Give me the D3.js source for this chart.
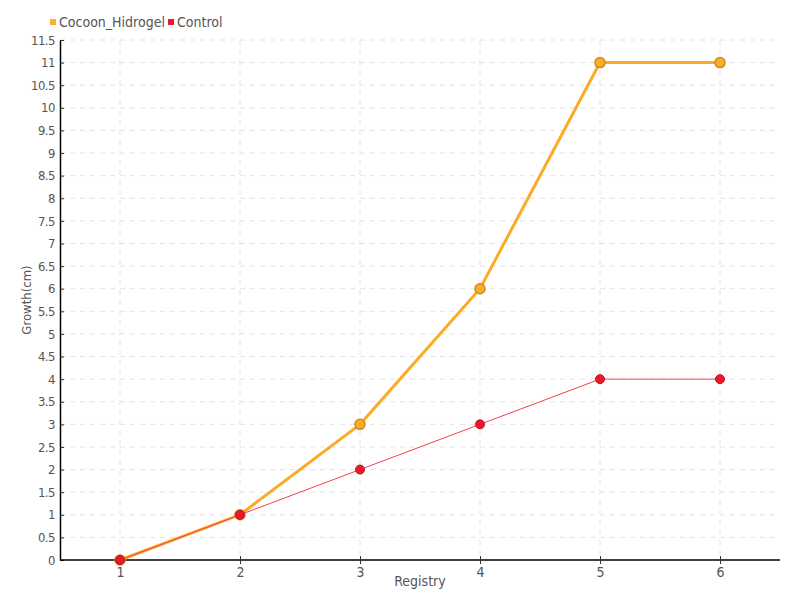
<!DOCTYPE html>
<html><head><meta charset="utf-8">
<script src="https://cdn.jsdelivr.net/npm/d3@7"></script>
<style>
body{margin:0;background:#fff;}
text{font-family:"DejaVu Sans Condensed","DejaVu Sans",sans-serif;fill:#555;}
</style></head>
<body><svg id="c" width="800" height="600"></svg>
<script>
const categories = ["1","2","3","4","5","6"];
const cocoonHidrogel = [0,1,3,6,11,11];
const control = [0,1,2,3,4,4];
const yTicks = [0,0.5,1,1.5,2,2.5,3,3.5,4,4.5,5,5.5,6,6.5,7,7.5,8,8.5,9,9.5,10,10.5,11,11.5];
const seriesNames = ["Cocoon_Hidrogel","Control"];

const svg = d3.select("#c");
const m = {l:60, r:20, t:40, b:40};
const W = 800, H = 600;
const x = d3.scalePoint().domain(categories).range([m.l, W-m.r]).padding(0.5);
const y = d3.scaleLinear().domain([0,11.5]).range([H-m.b, m.t]);

// grid
const g = svg.append("g");
g.selectAll(".hg").data(yTicks.slice(1)).join("line")
  .attr("x1",m.l).attr("x2",W-m.r).attr("y1",d=>y(d)).attr("y2",d=>y(d))
  .attr("stroke","#e3e3e3").attr("stroke-dasharray","5,5");
g.selectAll(".vg").data(categories).join("line")
  .attr("x1",d=>x(d)).attr("x2",d=>x(d)).attr("y1",m.t).attr("y2",H-m.b)
  .attr("stroke","#e3e3e3").attr("stroke-dasharray","5,5");

// axes
const ya = svg.append("g").attr("transform",`translate(${m.l},0)`)
  .call(d3.axisLeft(y).tickValues(yTicks).tickFormat(d=>String(d)).tickSizeInner(-4).tickSizeOuter(0).tickPadding(5));
ya.select(".domain").attr("stroke","#000").attr("stroke-width",1.5);
ya.selectAll(".tick line").attr("stroke","#333");
ya.selectAll("text").style("font-size","13px").attr("fill","#555").attr("letter-spacing","-0.5");

const xa = svg.append("g").attr("transform",`translate(0,${H-m.b})`)
  .call(d3.axisBottom(x).tickSizeInner(4).tickSizeOuter(0).tickPadding(3));
xa.select(".domain").attr("stroke","#000").attr("stroke-width",1.5).attr("d",`M${m.l},0H${W-m.r}`);
xa.selectAll(".tick line").attr("stroke","#333").attr("y1",-4);
xa.selectAll("text").style("font-size","14px").attr("fill","#555");

// titles
svg.append("text").attr("x",(m.l+W-m.r)/2).attr("y",586).attr("text-anchor","middle")
  .style("font-size","14px").text("Registry");
svg.append("text").attr("transform",`translate(31,${(m.t+H-m.b)/2}) rotate(-90)`).attr("text-anchor","middle")
  .style("font-size","13px").text("Growth(cm)");

// lines
const line = d3.line().x((d,i)=>x(categories[i])).y(d=>y(d));
svg.append("path").datum(cocoonHidrogel).attr("d",line).attr("fill","none")
  .attr("stroke","#fbab26").attr("stroke-width",3);
svg.selectAll(".pc").data(cocoonHidrogel).join("circle")
  .attr("cx",(d,i)=>x(categories[i])).attr("cy",d=>y(d)).attr("r",5)
  .attr("fill","#fbad2b").attr("stroke","#d08a1a").attr("stroke-width",1.5);
svg.append("path").datum(control).attr("d",line).attr("fill","none")
  .attr("stroke","#f4404f").attr("stroke-width",1);
svg.selectAll(".pr").data(control).join("circle")
  .attr("cx",(d,i)=>x(categories[i])).attr("cy",d=>y(d)).attr("r",4.5)
  .attr("fill","#e8192c").attr("stroke","#c8101f").attr("stroke-width",1);

// legend
const colors = ["#fbb02d","#e8192c"];
const lg = svg.append("g");
const lx = [50,168];
seriesNames.forEach((n,i)=>{
  lg.append("rect").attr("x",lx[i]).attr("y",19).attr("width",6).attr("height",6).attr("fill",colors[i]);
  lg.append("text").attr("x",lx[i]+9).attr("y",27).style("font-size","14px").text(n);
});
</script></body></html>
